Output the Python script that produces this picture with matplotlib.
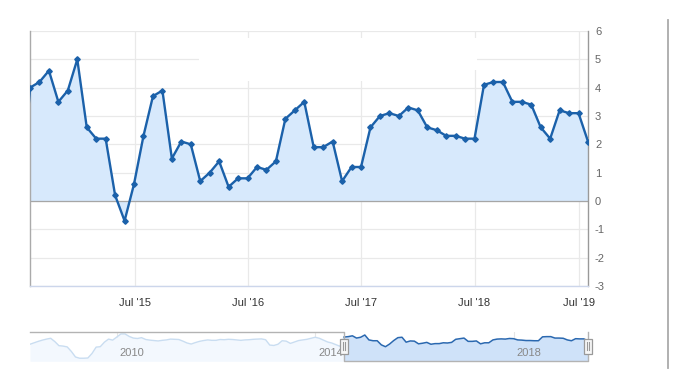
import matplotlib
matplotlib.use("Agg")
import matplotlib.pyplot as plt
from matplotlib.patches import Rectangle
from matplotlib.lines import Line2D
import numpy as np

plt.rcParams['font.family'] = ['Liberation Sans', 'DejaVu Sans']
plt.rcParams['axes.unicode_minus'] = False

# ---------------- data ----------------
# full monthly history shown in the navigator: Apr 2008 .. Jul 2014
history_values = [0.5, 1.2, 1.9, 2.5, 3.0, 3.4, 1.8, -0.2, -0.4, -0.8, -3.0, -5.7,
                  -6.3, -6.3, -6.2, -4.0, -0.9, -0.7, 1.5, 3.0, 2.5, 4.0, 5.5, 5.5,
                  4.3, 3.5, 3.3, 3.7, 2.8, 2.5, 2.3, 2.1, 2.4, 2.6, 3.0, 2.9,
                  2.8, 2.0, 1.1, 0.6, 1.3, 1.9, 2.3, 2.6, 2.4, 2.4, 2.8, 2.7,
                  2.9, 2.8, 2.6, 2.4, 2.6, 2.7, 2.9, 3.0, 3.1, 2.7, 0.1, -0.1,
                  0.5, 2.2, 2.0, 0.9, 1.6, 2.3, 2.6, 2.9, 3.4, 3.9, 3.4, 2.5,
                  1.6, 1.1, 0.3, -0.5]
# main chart: Aug 2014 .. Jul 2019
main_values = [4.0, 4.2, 4.6, 3.5, 3.9,
               5.0, 2.6, 2.2, 2.2, 0.2, -0.7, 0.6, 2.3, 3.7, 3.9, 1.5, 2.1,
               2.0, 0.7, 1.0, 1.4, 0.5, 0.8, 0.8, 1.2, 1.1, 1.4, 2.9, 3.2,
               3.5, 1.9, 1.9, 2.1, 0.7, 1.2, 1.2, 2.6, 3.0, 3.1, 3.0, 3.3,
               3.2, 2.6, 2.5, 2.3, 2.3, 2.2, 2.2, 4.1, 4.2, 4.2, 3.5, 3.5,
               3.4, 2.6, 2.2, 3.2, 3.1, 3.1, 2.1]
start_year, start_month = 2008, 4
x_tick_labels = ["Jul '15", "Jul '16", "Jul '17", "Jul '18", "Jul '19"]
x_tick_pos = [87.1, 99.1, 111.0, 123.0, 134.1]   # month index positions
y_ticks = list(range(-3, 7))
nav_years = [2010, 2014, 2018]

all_values = np.array(history_values + main_values)
idx = np.arange(len(all_values))
main_start = len(history_values)
main_end = len(all_values) - 1

W, H = 675, 374
fig = plt.figure(figsize=(W / 100, H / 100), dpi=100)
fig.patch.set_facecolor('white')

def fx(px):
    return px / W

def fy(py):
    return 1 - py / H

# ---------------- main axes ----------------
L, R, T, B = 30, 588, 31, 286
ax = fig.add_axes([fx(L), fy(B), fx(R - L), (B - T) / H])
ax.set_xlim(main_start, main_end)
ax.set_ylim(-3, 6)

line_c = '#1b61aa'
fill_c = '#d7e9fc'
ax.fill_between(idx, all_values, 0, color=fill_c, lw=0, zorder=1.5)
ax.plot(idx, all_values, color=line_c, lw=1.7, marker='D', ms=2.8,
        mec=line_c, mfc=line_c, zorder=3, clip_on=True)
ax.axhline(0, color='#a6a6a6', lw=0.9, zorder=2)

ax.set_yticks(y_ticks)
ax.set_xticks(x_tick_pos)
ax.set_xticklabels(x_tick_labels)
ax.yaxis.tick_right()
ax.grid(True, color='#e9e9e9', lw=0.9)
ax.set_axisbelow(True)
ax.tick_params(axis='y', length=0, pad=5, labelsize=8, labelcolor='#666666')
ax.tick_params(axis='x', length=0, pad=9, labelsize=8, labelcolor='#333333')
ax.spines['top'].set_visible(False)
ax.spines['left'].set_color('#aaaaaa')
ax.spines['right'].set_color('#999999')
ax.spines['bottom'].set_color('#ccd6eb')
for s in ['left', 'right', 'bottom']:
    ax.spines[s].set_linewidth(1.0)

# white patches hiding parts of the grid (as in the screenshot)
ax.add_patch(Rectangle((fx(199), fy(81)), fx(463 - 199), (81 - 38) / H,
                       transform=fig.transFigure, facecolor='white',
                       edgecolor='none', zorder=1))
ax.add_patch(Rectangle((fx(463), fy(70)), fx(14), (70 - 38) / H,
                       transform=fig.transFigure, facecolor='white',
                       edgecolor='none', zorder=1))

# ---------------- navigator ----------------
NT, NB = 331.7, 361.3
nav = fig.add_axes([fx(L), fy(NB), fx(R - L), (NB - NT) / H])
nav.set_xlim(0, main_end)
nav.set_ylim(-7.8, 6.6)
nav.axis('off')

year_idx = [(y - start_year) * 12 + (1 - start_month) for y in nav_years]
for yi in year_idx:
    nav.axvline(yi, color='#e6e6e6', lw=0.8, zorder=0.5)

sel = idx >= main_start
unsel = idx <= main_start
nav.fill_between(idx[unsel], all_values[unsel], -7.8, color='#f3f8fe', lw=0, zorder=1)
nav.plot(idx[unsel], all_values[unsel], color='#c9ddf1', lw=1.0, zorder=2)
nav.fill_between(idx[sel], all_values[sel], -7.8, color='#cfe2f9', lw=0, zorder=1)
nav.plot(idx[sel], all_values[sel], color='#2a68b0', lw=1.1, zorder=2)

for yi, yr in zip(year_idx, nav_years):
    nav.annotate(str(yr), xy=(yi, -7.8), xytext=(3, 3), textcoords='offset pixels',
                 ha='left', va='bottom', fontsize=8, color='#888888', zorder=5)

# outline
sx = fx(30 + (main_start) * (R - L) / main_end)
outline = Line2D([fx(L), sx, sx, fx(R), fx(R)],
                 [fy(NT), fy(NT), fy(NB), fy(NB), fy(NT)],
                 transform=fig.transFigure, color='#b3b3b3', lw=1.0)
fig.add_artist(outline)

# handles
for hx in [sx, fx(R)]:
    hw, hh = fx(8), 15 / H
    fig.add_artist(Rectangle((hx - hw / 2, fy(346) - hh / 2), hw, hh,
                             transform=fig.transFigure, facecolor='#f7f7f7',
                             edgecolor='#999999', lw=0.9, zorder=6))
    for dx in (-1.2, 1.2):
        fig.add_artist(Line2D([hx + fx(dx), hx + fx(dx)], [fy(342), fy(350)],
                              transform=fig.transFigure, color='#999999',
                              lw=0.8, zorder=7))

# right-hand vertical separator
fig.add_artist(Line2D([fx(668), fx(668)], [fy(20), fy(368)],
                      transform=fig.transFigure, color='#aaaaaa', lw=1.3))

fig.savefig('out.png', dpi=100, facecolor='white')
